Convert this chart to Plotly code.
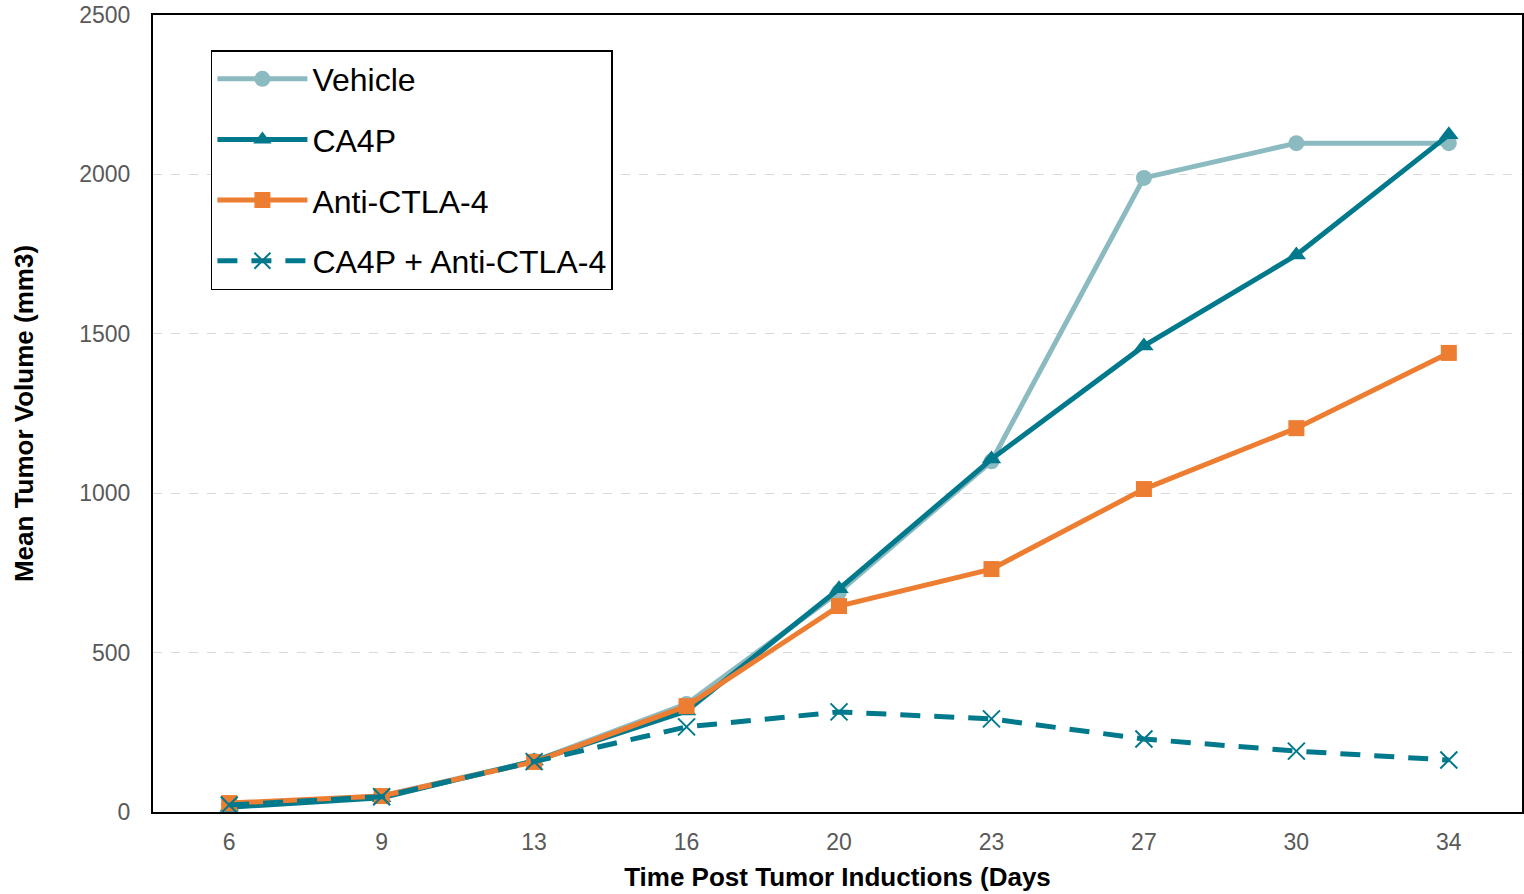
import plotly.graph_objects as go

days = ["6", "9", "13", "16", "20", "23", "27", "30", "34"]
vehicle = [22, 50, 160, 339, 690, 1100, 1989, 2098, 2098]
ca4p = [15, 45, 160, 317, 700, 1107, 1462, 1747, 2124]
anti_ctla4 = [28, 50, 157, 332, 646, 762, 1013, 1204, 1440]
combo = [22, 48, 158, 267, 314, 292, 229, 191, 163]

TEAL = "#00798C"
LIGHT = "#8BBAC1"
ORANGE = "#ED7D31"

fig = go.Figure()
fig.add_trace(go.Scatter(x=days, y=vehicle, name="Vehicle", mode="lines+markers",
                         line=dict(color=LIGHT, width=5),
                         marker=dict(symbol="circle", size=16, color=LIGHT),
                         legendgroup="a"))
fig.add_trace(go.Scatter(x=days, y=ca4p, name="CA4P", mode="lines+markers",
                         line=dict(color=TEAL, width=5),
                         marker=dict(symbol="triangle-up", size=17, color=TEAL),
                         legendgroup="b"))
fig.add_trace(go.Scatter(x=days, y=anti_ctla4, name="Anti-CTLA-4", mode="lines+markers",
                         line=dict(color=ORANGE, width=5),
                         marker=dict(symbol="square", size=16, color=ORANGE),
                         legendgroup="c"))
fig.add_trace(go.Scatter(x=days, y=combo, name="CA4P + Anti-CTLA-4", mode="lines+markers",
                         line=dict(color=TEAL, width=5, dash="20px,14px"),
                         marker=dict(symbol="x-thin-open", size=17,
                                     line=dict(color=TEAL, width=2), color=TEAL),
                         legendgroup="d"))

fig.update_layout(
    width=1524, height=894,
    margin=dict(l=153, r=0, t=15, b=82),
    paper_bgcolor="white", plot_bgcolor="white",
    font=dict(family="Arial, Liberation Sans, sans-serif", color="#000000"),
    legend=dict(x=0.0423, y=0.956, xanchor="left", yanchor="top",
                bgcolor="white", bordercolor="black", borderwidth=1.5,
                font=dict(size=32, color="black"), tracegroupgap=16,
                itemwidth=90),
    showlegend=True,
)
fig.update_xaxes(
    type="category", range=[-0.5, 8.48],
    showline=True, linecolor="black", linewidth=2, mirror=True,
    showgrid=False, ticks="", ticklabelstandoff=8,
    tickfont=dict(size=23, color="#595959"),
    title=dict(text="<b>Time Post Tumor Inductions (Days</b>",
               font=dict(size=26, color="black"), standoff=14),
)
fig.update_yaxes(
    range=[0, 2500], dtick=500,
    showline=True, linecolor="black", linewidth=2, mirror=True,
    showgrid=True, gridcolor="#D9D9D9", griddash="dash", gridwidth=1.3,
    zeroline=False, ticks="", ticklabelstandoff=16,
    tickfont=dict(size=23, color="#595959"),
    title=dict(text="<b>Mean Tumor Volume (mm3)</b>",
               font=dict(size=26, color="black"), standoff=38),
)
fig.write_html("out.html")
